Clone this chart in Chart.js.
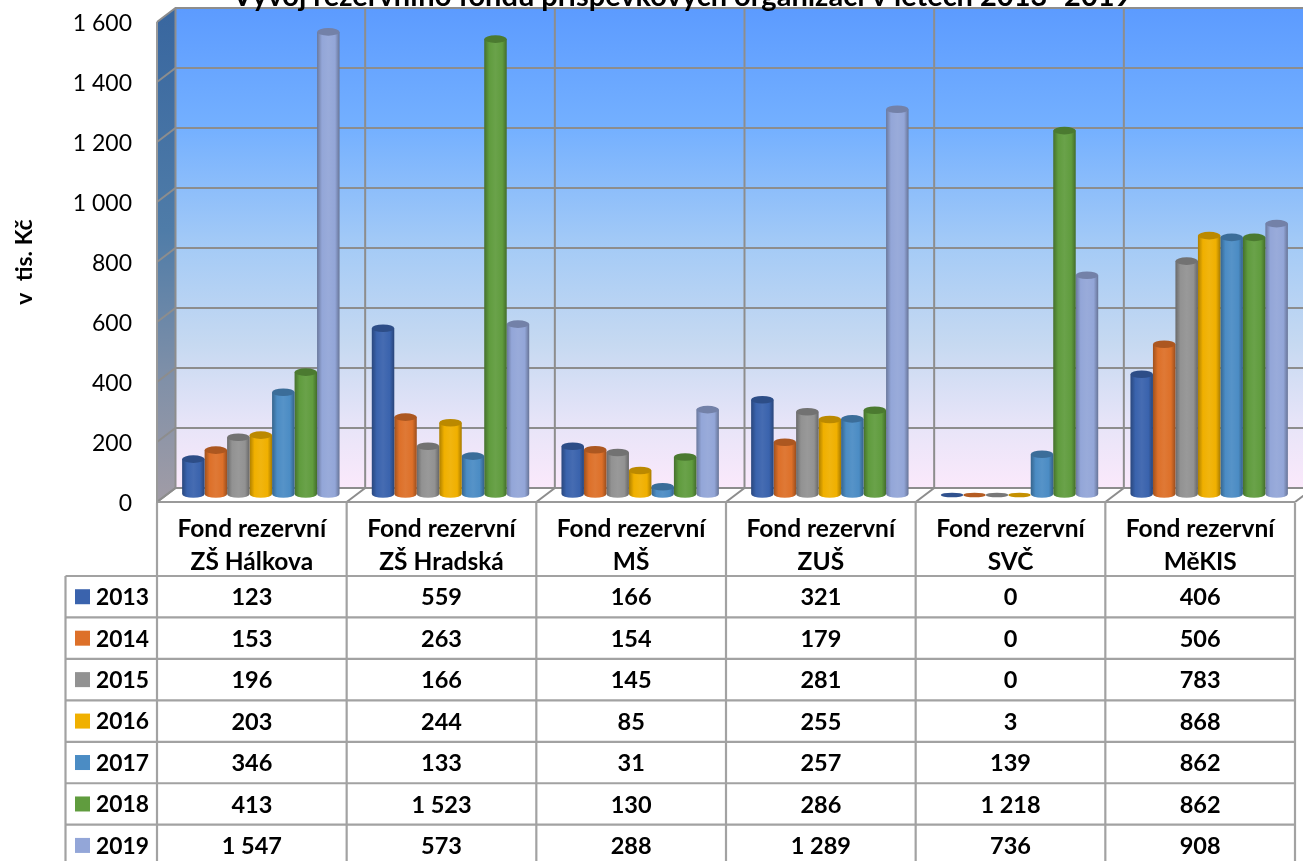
<!DOCTYPE html>
<html><head><meta charset="utf-8">
<style>html,body{margin:0;padding:0;background:#fff;overflow:hidden}canvas{display:block}</style>
<script src="https://cdn.jsdelivr.net/npm/chart.js@4"></script>
</head><body><canvas id="c" width="1303" height="861"></canvas>
<script>
const chartTitle = "Vývoj rezervního fondu příspěvkových organizací v letech 2013–2019";
const axisTitle = "v  tis. Kč";
const categories = [["Fond rezervní","ZŠ Hálkova"],["Fond rezervní","ZŠ Hradská"],["Fond rezervní","MŠ"],["Fond rezervní","ZUŠ"],["Fond rezervní","SVČ"],["Fond rezervní","MěKIS"]];
const years = ["2013","2014","2015","2016","2017","2018","2019"];
const v2013 = [123,559,166,321,0,406];
const v2014 = [153,263,154,179,0,506];
const v2015 = [196,166,145,281,0,783];
const v2016 = [203,244,85,255,3,868];
const v2017 = [346,133,31,257,139,862];
const v2018 = [413,1523,130,286,1218,862];
const v2019 = [1547,573,288,1289,736,908];
const seriesValues = [v2013,v2014,v2015,v2016,v2017,v2018,v2019];
const colors = ["#3a63ad","#dd7029","#929292","#f0b000","#4b8cc4","#609c3e","#93a6d8"];
const FONT = "Lato, Carlito, Calibri, sans-serif";
const fmt = n => String(n).replace(/\B(?=(\d{3})+$)/g," ");

function shade(hex,f){
  const n=parseInt(hex.slice(1),16);
  const ch=[n>>16,(n>>8)&255,n&255].map(c=>Math.round(f<0?c*(1+f):c+(255-c)*f));
  return `rgb(${ch[0]},${ch[1]},${ch[2]})`;
}
const DX=18.5, DY=14, BX=9, BY=6, BASE=495, GRID="#8d8d8d", TLINE="#a2a2a2";

const walls = {
  id:"walls",
  beforeDatasetsDraw(chart){
    const {ctx,chartArea:a,scales:{x,y}}=chart;
    const L=a.left,R=a.right,T=a.top,B=a.bottom;
    ctx.save();
    let g=ctx.createLinearGradient(0,T-DY,0,B-DY);
    g.addColorStop(0,"#5c9bff");g.addColorStop(.25,"#74b0ff");g.addColorStop(.5,"#a5cbf6");g.addColorStop(.7,"#c6d9f1");g.addColorStop(.86,"#e6e4f8");g.addColorStop(1,"#fbe9fb");
    ctx.fillStyle=g;ctx.fillRect(L+DX,T-DY,R-L,B-T);
    g=ctx.createLinearGradient(0,T-DY,0,B);
    g.addColorStop(0,"#38669f");g.addColorStop(.45,"#4f7ca8");g.addColorStop(.75,"#8090a8");g.addColorStop(1,"#a19ca6");
    ctx.fillStyle=g;ctx.beginPath();ctx.moveTo(L,T);ctx.lineTo(L+DX,T-DY);ctx.lineTo(L+DX,B-DY);ctx.lineTo(L,B);ctx.closePath();ctx.fill();
    ctx.fillStyle="#fff";ctx.beginPath();ctx.moveTo(L,B);ctx.lineTo(L+DX,B-DY);ctx.lineTo(R+DX,B-DY);ctx.lineTo(R,B);ctx.closePath();ctx.fill();
    ctx.strokeStyle=GRID;ctx.lineWidth=2;
    y.ticks.forEach(t=>{
      const py=y.getPixelForValue(t.value);
      ctx.beginPath();ctx.moveTo(L,py);ctx.lineTo(L+DX,py-DY);ctx.lineTo(R+DX,py-DY);ctx.stroke();
    });
    const step=(R-L)/categories.length;
    for(let i=0;i<=categories.length;i++){
      const px=L+i*step;
      ctx.beginPath();ctx.moveTo(px,B);ctx.lineTo(px+DX,B-DY);ctx.lineTo(px+DX,T-DY);ctx.stroke();
    }
    ctx.strokeStyle="#9a9a9a";ctx.lineWidth=2;
    ctx.beginPath();ctx.moveTo(L,T);ctx.lineTo(L,B);ctx.lineTo(R,B);ctx.stroke();
    ctx.restore();
  }
};

const cylinders = {
  id:"cylinders",
  beforeDatasetDraw(chart,args){
    const {ctx}=chart, col=colors[args.index];
    const meta=args.meta;
    ctx.save();
    meta.data.forEach(el=>{
      const w=el.width, cx=el.x+BX, top=el.y-BY, r=w/2;
      const h=BASE-top;
      if(h<6){
        ctx.fillStyle=shade(col,-.18);
        ctx.beginPath();ctx.ellipse(cx,BASE,r,2.3,0,0,Math.PI*2);ctx.fill();
        return;
      }
      const ry=3.8;
      const g=ctx.createLinearGradient(cx-r,0,cx+r,0);
      g.addColorStop(0,shade(col,-.28));g.addColorStop(.22,col);g.addColorStop(.5,shade(col,.06));g.addColorStop(.8,col);g.addColorStop(1,shade(col,-.3));
      ctx.fillStyle=g;
      ctx.beginPath();
      ctx.moveTo(cx-r,top);ctx.lineTo(cx-r,BASE-1);
      ctx.ellipse(cx,BASE-1,r,ry,0,Math.PI,0,true);
      ctx.lineTo(cx+r,top);ctx.closePath();ctx.fill();
      ctx.fillStyle=shade(col,-.22);
      ctx.beginPath();ctx.ellipse(cx,top,r,ry,0,0,Math.PI*2);ctx.fill();
    });
    ctx.restore();
    return false;
  }
};

const tableAndTitle = {
  id:"tableAndTitle",
  afterDraw(chart){
    const {ctx,chartArea:a}=chart;
    const L=a.left,R=a.right,step=(R-L)/categories.length;
    const rowTop=576, rowH=41.45, legL=65.5, bottom=chart.height;
    ctx.save();
    ctx.strokeStyle=TLINE;ctx.lineWidth=2.2;
    for(let i=0;i<=years.length;i++){
      const py=rowTop+i*rowH;
      ctx.beginPath();ctx.moveTo(legL,py);ctx.lineTo(R,py);ctx.stroke();
    }
    for(let i=0;i<=categories.length;i++){
      const px=L+i*step;
      ctx.beginPath();ctx.moveTo(px,503);ctx.lineTo(px,bottom);ctx.stroke();
    }
    ctx.beginPath();ctx.moveTo(legL,rowTop);ctx.lineTo(legL,bottom);ctx.stroke();
    ctx.fillStyle="#000";ctx.textBaseline="middle";ctx.textAlign="center";
    categories.forEach((c,i)=>{
      const cx=L+(i+.5)*step;
      ctx.font="bold 24.5px "+FONT;
      ctx.fillText(c[0],cx,529);ctx.fillText(c[1],cx,562);
      ctx.font="bold 23.5px "+FONT;
      seriesValues.forEach((s,r)=>ctx.fillText(fmt(s[i]),cx,rowTop+(r+.5)*rowH+1));
    });
    ctx.textAlign="left";ctx.font="bold 22.8px "+FONT;
    years.forEach((yr,r)=>{
      const cy=rowTop+(r+.5)*rowH;
      ctx.fillStyle=colors[r];ctx.fillRect(75,cy-7.5,15,15);
      ctx.fillStyle="#000";ctx.fillText(yr,96,cy+1);
    });
    ctx.textAlign="center";ctx.textBaseline="alphabetic";
    ctx.font="bold 29px "+FONT;
    ctx.fillText(chartTitle,682,6);
    ctx.restore();
  }
};

new Chart(document.getElementById("c"),{
  type:"bar",
  data:{
    labels:categories.map(c=>c.join(" ")),
    datasets:years.map((yr,i)=>({label:yr,data:seriesValues[i],backgroundColor:colors[i],barPercentage:1,categoryPercentage:.83}))
  },
  options:{
    responsive:false,animation:false,
    layout:{padding:{top:22,right:8,left:0,bottom:0}},
    plugins:{legend:{display:false},title:{display:false},tooltip:{enabled:false}},
    scales:{
      x:{grid:{display:false},border:{display:false},ticks:{display:false},
         afterFit(s){s.height=359;s.paddingLeft=0;s.paddingRight=0;}},
      y:{min:0,max:1600,
         grid:{display:false},border:{display:false},
         ticks:{stepSize:200,padding:17,labelOffset:2,color:"#000",font:{family:FONT,size:23},callback:v=>fmt(v)},
         title:{display:true,text:axisTitle,color:"#000",font:{family:FONT,size:23,weight:"bold"},padding:{top:11,bottom:0}},
         afterFit(s){s.width=157;s.paddingTop=0;s.paddingBottom=0;}}
    }
  },
  plugins:[walls,cylinders,tableAndTitle]
});
</script></body></html>
